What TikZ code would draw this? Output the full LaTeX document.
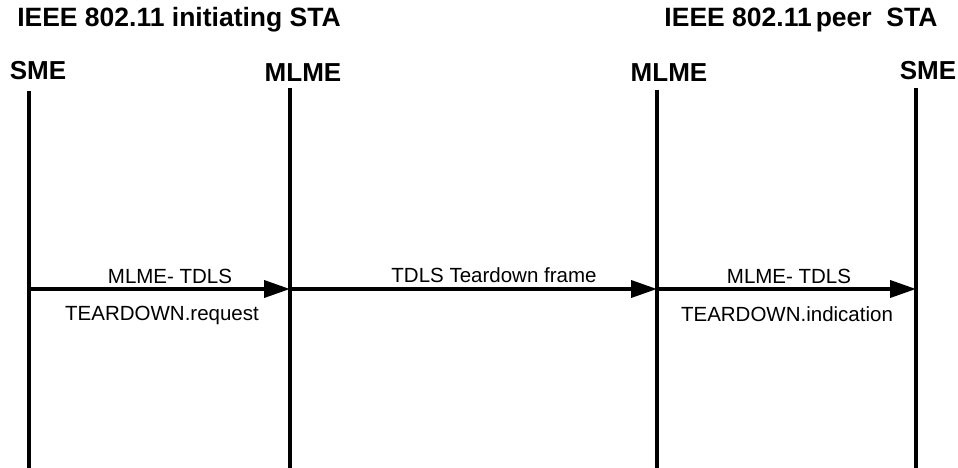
\documentclass[tikz,border=0pt]{standalone}
\usepackage{fontspec}
\setmainfont{Liberation Sans}
\usetikzlibrary{arrows.meta}
\begin{document}
\begin{tikzpicture}[x=1pt,y=-1pt,
  title/.style={font=\fontsize{26.5}{30}\selectfont\bfseries,anchor=base,inner sep=0pt},
  head/.style={font=\fontsize{26}{30}\selectfont\bfseries,anchor=base,inner sep=0pt},
  lbl/.style={font=\fontsize{20.5}{24}\selectfont,anchor=base,inner sep=0pt},
  life/.style={line width=3.5pt},
  msg/.style={line width=3.8pt,-{Triangle[length=26pt,width=17pt]}}]
\useasboundingbox (0,0) rectangle (958,468);
\node[title] (t1) at (179,27) {IEEE 802.11 initiating STA};
\node[title] (t2) at (801,27) {IEEE 802.11\hspace{4pt}peer~~STA};
\node[head] (h1) at (38,80) {SME};
\node[head] (h2) at (303,82) {MLME};
\node[head] (h3) at (669,82) {MLME};
\node[head] (h4) at (928,80) {SME};
\coordinate (l1t) at (29,91);  \coordinate (l1b) at (29,468);
\coordinate (l2t) at (290,88); \coordinate (l2b) at (290,468);
\coordinate (l3t) at (657,90); \coordinate (l3b) at (657,468);
\coordinate (l4t) at (916,88); \coordinate (l4b) at (916,468);
\draw[life] (l1t) -- (l1b);
\draw[life] (l2t) -- (l2b);
\draw[life] (l3t) -- (l3b);
\draw[life] (l4t) -- (l4b);
\coordinate (m1) at (29,289);
\coordinate (m2) at (290,289);
\coordinate (m3) at (657,289);
\coordinate (m4) at (916,289);
\draw[msg] (m1) -- (m2);
\draw[msg] (m2) -- (m3);
\draw[msg] (m3) -- (m4);
\node[lbl] (a1) at (170,283) {MLME- TDLS};
\node[lbl] (b1) at (162,320) {TEARDOWN.request};
\node[lbl] (a2) at (494,282) {TDLS Teardown frame};
\node[lbl] (a3) at (789,283) {MLME- TDLS};
\node[lbl] (b3) at (787,321) {TEARDOWN.indication};
\end{tikzpicture}
\end{document}
